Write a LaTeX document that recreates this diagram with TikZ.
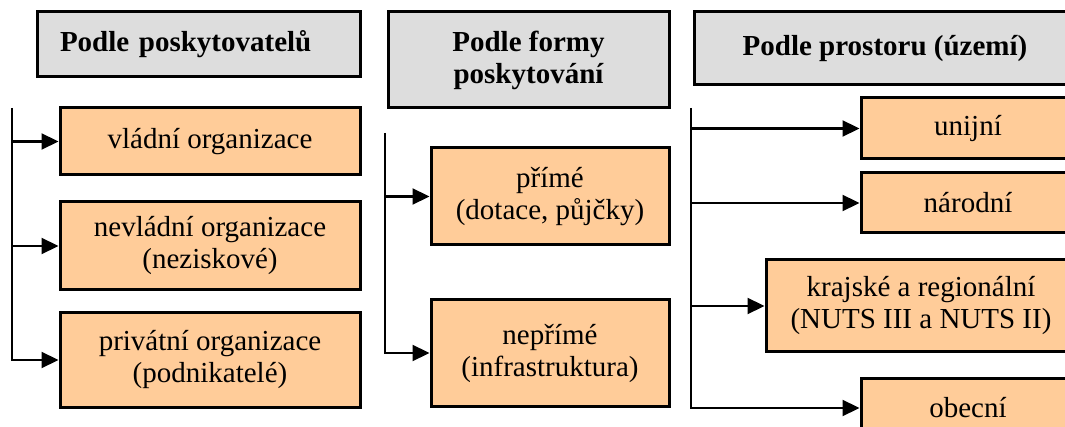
\documentclass[tikz,border=0pt]{standalone}
\usepackage{fontspec}
\setmainfont{Liberation Serif}
\usetikzlibrary{arrows.meta}
\definecolor{headgray}{HTML}{DDDDDD}
\definecolor{itempeach}{HTML}{FFCC99}

\begin{document}
\begin{tikzpicture}[x=1pt,y=-1pt,
  head/.style={draw,line width=3pt,fill=headgray,font=\bfseries,
    align=center,inner sep=0pt},
  item/.style={draw,line width=3pt,fill=itempeach,align=center,inner sep=0pt},
  link/.style={line width=2.2pt,-{Triangle[length=17pt,width=16pt]}}]

  \fontsize{29}{32}\selectfont
  \useasboundingbox (0,0) rectangle (1065,427);

  %% headers
  \node[head,minimum width=323pt,minimum height=65pt,
    text width=277pt,inner xsep=23pt,align=left] (hA) at (198.5,44.5)
    {Podle poskytovatelů};
  \node[head,minimum width=281pt,minimum height=96pt] (hB) at (528.5,60)
    {Podle formy\\poskytování};
  \node[head,minimum width=382pt,minimum height=73pt] (hC) at (885,48.5)
    {Podle prostoru (území)};

  %% providers
  \node[item,minimum width=300pt,minimum height=67pt] (vlad) at (210,141.5)
    {vládní organizace};
  \node[item,minimum width=300pt,minimum height=88pt] (nevl) at (210,246)
    {nevládní organizace\\(neziskové)};
  \node[item,minimum width=300pt,minimum height=94pt] (priv) at (210,360)
    {privátní organizace\\(podnikatelé)};

  %% form
  \node[item,minimum width=238pt,minimum height=97pt] (prime) at (550,196.5)
    {přímé\\(dotace, půjčky)};
  \node[item,minimum width=238pt,minimum height=106pt] (neprime) at (550,353)
    {nepřímé\\(infrastruktura)};

  %% territory
  \node[item,minimum width=214pt,minimum height=61pt] (unij) at (968,128.5)
    {unijní};
  \node[item,minimum width=214pt,minimum height=60pt] (narod) at (968,203)
    {národní};
  \node[item,minimum width=310pt,minimum height=92pt] (kraj) at (921,306)
    {krajské a regionální\\(NUTS III a NUTS II)};
  \node[item,minimum width=214pt,minimum height=60pt] (obec) at (968,408)
    {obecní};

  %% trunk tops
  \coordinate (tA) at (12,108);
  \coordinate (tB) at (385,133);
  \coordinate (tC) at (691,108);

  %% connectors
  \draw[link] (tA) |- (priv.west);
  \draw[link] (tA |- vlad.west) -- (vlad.west);
  \draw[link] (tA |- nevl.west) -- (nevl.west);

  \draw[link] (tB) |- (neprime.west);
  \draw[link] (tB |- prime.west) -- (prime.west);

  \draw[link] (tC) |- (obec.west);
  \draw[link] (tC |- unij.west) -- (unij.west);
  \draw[link] (tC |- narod.west) -- (narod.west);
  \draw[link] (tC |- kraj.west) -- (kraj.west);

\end{tikzpicture}
\end{document}
